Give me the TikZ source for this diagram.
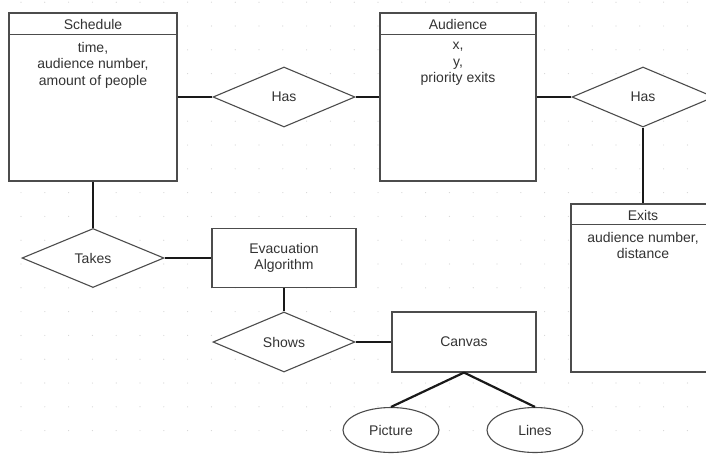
\documentclass[tikz,border=0pt]{standalone}
\usepackage{fontspec}
\setmainfont{Liberation Sans}
\usetikzlibrary{shapes.geometric}
\begin{document}
\begin{tikzpicture}[x=1pt,y=-1pt,
  every node/.style={font=\fontsize{14}{16.5}\selectfont, text=black!80},
  entbox/.style={draw=black!70, line width=1.1pt, fill=white, rectangle, inner sep=0pt},
  reldia/.style={draw=black!70, line width=1.1pt, fill=white, diamond, aspect=2.37, inner sep=0pt, minimum width=142pt, minimum height=60pt},
  attrell/.style={draw=black!70, line width=1.1pt, fill=white, ellipse, inner sep=0pt, minimum width=96pt, minimum height=45pt},
  conn/.style={draw=black!90, line width=2.2pt},
  hline/.style={draw=black!70, line width=1.1pt},
  txt/.style={inner sep=0pt, align=center},
  griddot/.style={fill=black!16}
]
\clip (0,0) rectangle (706,453);
\fill[white] (0,0) rectangle (706,453);
% background dot grid
\foreach \i in {0,...,29} {
  \foreach \j in {0,...,18} {
    \fill[griddot] ({21+23.8*\i},{2.2+23.8*\j}) circle (0.6pt);
  }
}
% entities
\node[entbox, minimum width=168pt, minimum height=168pt] (sched) at (93,97) {};
\draw[hline] (sched.north west) ++(0,22) -- ++(168,0);
\node[txt, anchor=base] (schedT) at (93,29) {Schedule};
\node[txt, anchor=north] (schedA) at (93,42) {time,\\audience number,\\amount of people};

\node[entbox, minimum width=156pt, minimum height=168pt] (aud) at (458,97) {};
\draw[hline] (aud.north west) ++(0,22) -- ++(156,0);
\node[txt, anchor=base] (audT) at (458,29) {Audience};
\node[txt, anchor=north] (audA) at (458,42) {x,\\y,\\priority exits};

\node[entbox, minimum width=144pt, minimum height=168pt] (exits) at (643,288) {};
\draw[hline] (exits.north west) ++(0,21) -- ++(144,0);
\node[txt, anchor=base] (exitsT) at (643,220) {Exits};
\node[txt, anchor=north] (exitsA) at (643,232) {audience number,\\distance};

\node[entbox, minimum width=144pt, minimum height=59pt, align=center] (evac) at (284,258) {Evacuation\\Algorithm};
\node[entbox, minimum width=144pt, minimum height=60pt] (canvas) at (464,342) {Canvas};

% relationships
\node[reldia] (has1) at (284,97) {Has};
\node[reldia] (has2) at (643,97) {Has};
\node[reldia, minimum height=59pt] (takes) at (93,258) {Takes};
\node[reldia] (shows) at (284,342) {Shows};

% attributes
\node[attrell] (pic) at (391,430) {Picture};
\node[attrell] (lines) at (535,430) {Lines};

% connectors
\draw[conn] (sched.east) -- (has1.west);
\draw[conn] (has1.east) -- (aud.west);
\draw[conn] (aud.east) -- (has2.west);
\draw[conn] (has2.south) -- (exits.north);
\draw[conn] (sched.south) -- (takes.north);
\draw[conn] (takes.east) -- (evac.west);
\draw[conn] (evac.south) -- (shows.north);
\draw[conn] (shows.east) -- (canvas.west);
\draw[conn] (canvas.south) -- (pic.north);
\draw[conn] (canvas.south) -- (lines.north);
\end{tikzpicture}
\end{document}
